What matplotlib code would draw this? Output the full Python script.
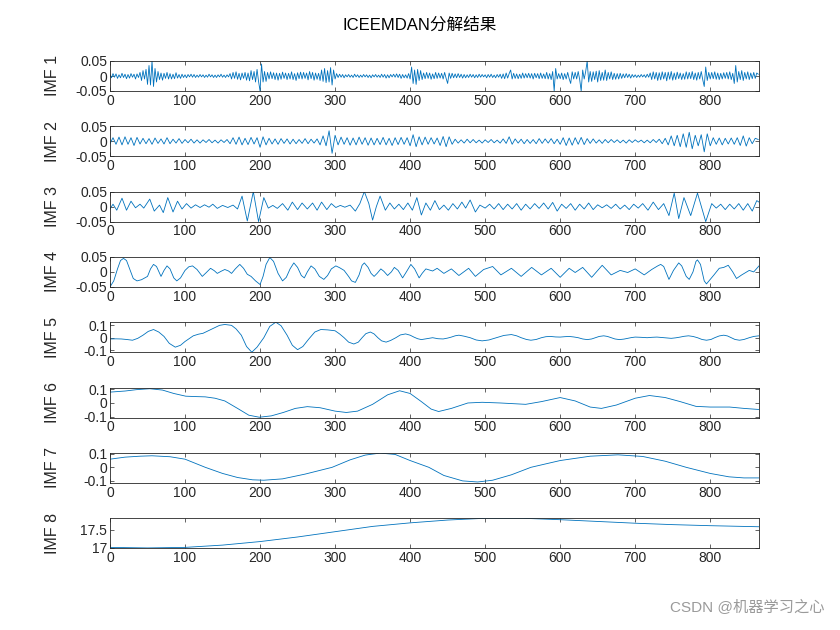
import numpy as np
import matplotlib.pyplot as plt

plt.rcParams['font.family'] = ['Liberation Sans', 'Noto Sans CJK SC', 'DejaVu Sans']

N = 865

# IMF 1 (x1e-3), one value every 2 samples
imf1 = [5, -6, 8, -4, 7, -8, 4, -6, 9, -5,
        6, -9, 5, -7, 8, -4, 6, -10, 7, -5,
        12, -15, 18, -10, 22, -28, 35, -30, 50, -35,
        25, -20, 15, -12, 10, -14, 9, -8, 12, -10,
        8, -10, 6, -9, 11, -7, 5, -8, 6, -5,
        4, -6, 5, -3, 6, -4, 5, -5, 3, -4,
        5, -3, 4, -5, 3, -4, 6, -3, 4, -5,
        3, -5, 4, -3, 6, -4, 3, -5, 4, -3,
        8, -10, 12, -8, 14, -11, 9, -13, 10, -8,
        12, -14, 10, -16, 18, -12, 15, -20, 22, -18,
        -50, 40, -20, 15, -18, 12, -10, 14, -9, 11,
        -12, 10, -14, 9, -11, 13, -8, 10, -12, 9,
        -10, 14, -12, 8, -15, 11, -9, 13, -10, 12,
        -8, 10, -13, 15, -9, 12, -14, 10, -11, 9,
        -15, 20, -18, 25, -22, 18, -20, 28, -30, 20,
        -10, 8, -5, 6, -4, 5, -6, 4, -3, 5,
        -4, 3, -5, 6, -3, 4, -5, 3, -4, 5,
        -3, 4, -5, 3, -6, 4, -3, 5, -4, 3,
        -5, 6, -4, 5, -7, 4, -6, 5, -3, 6,
        -4, 7, -5, 6, -8, 5, -6, 4, -7, 8,
        -10, 30, -25, 20, -28, 22, -15, 18, -12, 10,
        -9, 12, -8, 10, -11, 7, -9, 12, -8, 10,
        -7, 9, -10, 12, -8, -25, 10, -8, 9, -6,
        7, -6, 8, -5, 6, -7, 5, -6, 4, -5,
        6, -4, 5, -6, 4, -5, 6, -4, 5, -3,
        4, -6, 5, -4, 6, -5, 3, -6, 5, -4,
        6, -8, 7, -9, 10, -7, 8, 20, -10, 9,
        -8, 7, -9, 6, -8, 10, -7, 8, -6, 9,
        -7, 8, -10, 9, -6, 8, -9, 10, -8, 7,
        -9, 12, -10, 8, -12, 15, -50, 25, -10, 8,
        -9, 10, -12, 8, -10, 12, -9, -25, 14, -10,
        12, -10, 15, -12, -50, 20, -10, 15, 50, -20,
        15, -18, 14, -12, 16, -20, 18, -15, 12, -14,
        20, -15, 12, -10, 14, -12, 9, -11, 8, -10,
        9, -8, 7, -6, 8, -5, 6, -7, 5, -4,
        4, -5, 3, -4, 5, -3, 4, -5, 6, -4,
        10, -12, 14, -10, 12, -15, 11, -13, 14, -10,
        12, -16, 13, -11, 15, -14, 10, -12, 13, -9,
        10, -12, 8, -11, 14, -10, 12, -9, 15, -12,
        10, -14, 12, -10, 15, -12, -35, 30, -15, 12,
        -10, 12, -9, 14, -11, 10, -12, 9, -10, 11,
        -8, 12, -10, 14, -12, 9, -25, 35, -20, 15,
        -12, 18, -15, 12, -10, 14, -12, 10, -9, 12,
        -8, 10, 6]

# IMF 2 (x1e-3), one value every 4 samples
imf2 = [-8, 12, -10, 14, -12, 15, -10, 12, -14, 13,
        -9, 10, -8, 9, -10, 11, -7, 8, -9, 12,
        -8, 7, -6, 9, -7, 6, -5, 7, -6, 5,
        -6, 5, -4, 6, -5, 4, -6, 5, -4, 6,
        -8, 12, -10, 14, -12, 10, -11, 13, -9, 12,
        -20, 15, -12, 10, -9, 8, -10, 9, -7, 8,
        -9, 7, -8, 6, -7, 9, -8, 7, -6, 8,
        -12, 18, -15, 35, -40, 20, -12, 14, -10, 12,
        -13, 11, -12, 14, -10, 12, -13, 11, -12, 10,
        -11, 13, -12, 10, -14, 12, -11, 13, -10, 12,
        -15, 22, -18, 15, -12, 14, -10, 12, -9, 11,
        -14, 16, -18, 15, -10, 7, -6, 5, -6, 7,
        -5, 6, -5, 4, -6, 5, -4, 6, -5, 4,
        -6, 8, -7, 15, -10, 8, -6, 7, -8, 6,
        -7, 6, -8, 9, -7, 8, -6, 9, -8, 7,
        -10, 12, -14, 11, -13, 12, -10, 13, -11, 9,
        -7, 8, -6, 5, -7, 6, -5, 6, -4, 5,
        -5, 4, -6, 5, -4, 5, -3, 4, -5, 4,
        -5, 6, -4, 7, -8, 10, -12, 18, -15, 20,
        -18, 25, -20, 30, -25, 20, -15, 22, -35, 25,
        -15, 12, -10, 11, -12, 10, -9, 11, -10, 12,
        -14, 18, -16, 12, -8, 10, 6]

# IMF 3 (sample, x1e-3)
imf3 = [(0, -8), (4, 8), (9, -12), (16, 28), (22, -12), (28, 18), (34, -4), (40, 8),
        (45, -5), (53, 25), (59, -15), (66, 5), (71, -20), (77, 30), (84, -18), (90, 18),
        (96, -8), (102, 10), (108, -5), (114, 6), (120, -3), (126, 6), (132, -2), (137, 8),
        (143, -6), (150, 4), (157, -3), (164, 5), (170, -8), (176, 35), (183, -48), (191, 50),
        (198, -50), (205, 30), (211, -5), (217, 4), (223, -6), (230, 10), (237, -12), (243, 15),
        (250, -10), (256, 12), (263, -8), (270, 12), (276, -12), (282, 15), (289, -10), (295, 10),
        (301, -3), (307, 4), (313, -2), (320, 5), (327, -15), (333, 10), (339, 50), (345, 10),
        (350, -45), (355, 0), (360, 35), (367, -12), (373, 12), (379, -8), (385, 8), (391, -10),
        (397, 12), (403, -12), (409, 30), (415, -28), (421, 12), (427, -12), (433, 20), (439, -10),
        (445, 5), (451, -12), (457, 10), (463, -8), (469, 15), (474, -5), (480, 22), (487, -18),
        (493, 5), (500, -5), (506, 8), (512, -8), (518, 10), (524, -10), (530, 8), (536, -8),
        (542, 10), (548, -12), (554, 8), (560, -8), (566, 10), (572, -6), (578, 12), (584, -8),
        (590, 14), (596, -15), (602, 8), (608, -6), (614, 10), (620, -12), (626, 8), (632, -8),
        (638, 12), (644, -10), (650, 6), (656, -4), (662, 6), (668, -6), (674, 8), (680, -8),
        (686, 5), (692, -10), (698, 8), (704, -5), (710, 10), (717, -12), (724, 15), (731, -10),
        (738, 10), (745, -30), (752, 45), (758, -40), (765, 30), (774, -30), (783, 45), (794, -50),
        (802, 10), (808, -5), (814, 8), (820, -10), (826, 8), (832, -8), (838, 10), (844, -12),
        (850, 10), (856, -15), (862, 20), (865, 15)]

# IMF 4 (sample, x1e-3)
imf4 = [(0, -50), (5, -30), (10, 10), (14, 38), (18, 45), (22, 38), (27, 5), (31, -22),
        (36, -30), (42, -26), (50, -15), (54, 10), (58, 25), (62, 18), (68, -15), (72, 5),
        (76, 20), (80, 10), (85, -20), (89, -30), (94, -20), (100, 5), (105, 17), (110, 20),
        (116, 8), (123, -15), (128, -3), (134, 12), (139, 4), (143, -5), (148, 2), (153, 8),
        (158, 3), (162, -5), (167, 10), (173, 25), (178, 12), (183, -8), (188, -15), (194, -30),
        (200, -42), (204, -15), (208, 25), (213, 48), (218, 35), (224, -5), (230, -30), (235, -18),
        (240, 10), (245, 30), (250, 15), (255, -12), (259, -20), (263, 0), (268, 20), (273, 10),
        (279, -15), (285, -25), (290, -12), (295, 10), (301, 20), (306, 14), (312, 5), (318, -15),
        (322, -30), (327, -35), (332, -10), (336, 22), (339, 30), (344, 15), (348, -5), (352, -15),
        (356, -5), (361, 10), (365, 2), (370, -12), (375, 0), (379, 15), (384, 5), (390, -20),
        (395, 0), (401, 25), (406, 10), (412, -20), (416, -5), (421, 10), (430, 3), (436, 12),
        (445, -5), (455, 10), (465, -12), (478, 12), (487, -15), (498, 8), (510, 18), (521, -10),
        (535, 12), (548, -15), (562, 15), (575, -10), (588, 12), (600, -18), (612, 12), (620, -2),
        (630, 15), (642, -18), (656, 22), (668, -10), (680, 5), (690, -2), (700, 10), (712, -10),
        (722, 8), (730, 20), (734, 25), (738, 18), (745, -25), (751, 5), (758, 30), (762, 20),
        (768, -15), (772, -25), (777, 0), (781, 35), (783, 40), (787, 25), (792, -30), (795, -40),
        (800, -25), (805, -10), (812, 12), (818, 15), (824, 22), (830, 0), (835, -22), (842, -10),
        (852, 5), (858, 0), (865, 20)]

# IMF 5 (sample, x1e-3)
imf5 = [(0, -10), (8, -9), (15, -10), (22, -14), (30, -20), (37, -5), (44, 20), (51, 50),
        (58, 65), (65, 45), (72, 10), (79, -45), (87, -75), (94, -60), (100, -30), (106, -5),
        (111, 15), (118, 28), (124, 35), (131, 55), (138, 75), (146, 98), (153, 105), (162, 98),
        (168, 70), (175, 20), (182, -70), (189, -115), (196, -75), (205, 0), (213, 90), (221, 123),
        (228, 95), (236, 20), (243, -60), (250, -95), (257, -70), (265, -10), (273, 45), (281, 65),
        (290, 62), (300, 55), (306, 30), (312, 0), (318, -35), (325, -50), (331, -35), (336, 0),
        (341, 32), (347, 45), (352, 30), (357, 0), (362, -25), (368, -35), (374, -22), (381, 0),
        (387, 22), (394, 30), (400, 20), (405, 5), (410, -8), (415, -15), (422, -8), (430, 0),
        (437, -8), (444, -10), (450, -3), (455, 5), (460, 15), (465, 20), (472, 12), (480, 0),
        (488, -18), (496, -25), (505, -18), (515, 0), (525, 18), (535, 25), (542, 15), (548, 0),
        (555, -14), (561, -20), (568, -14), (575, 0), (581, 8), (587, 10), (594, 6), (600, 5),
        (606, 8), (612, 10), (618, 6), (624, 0), (630, -10), (636, -15), (642, -10), (647, 0),
        (652, 10), (658, 15), (663, 10), (668, 0), (673, -10), (679, -15), (685, -11), (690, -5),
        (695, 1), (700, 5), (708, 3), (716, 0), (722, 3), (729, 5), (738, 0), (748, -5),
        (754, -1), (760, 5), (765, 11), (771, 15), (777, 10), (783, 0), (789, -14), (795, -20),
        (801, -14), (806, 0), (812, 14), (818, 20), (823, 14), (828, 0), (833, -14), (839, -20),
        (845, -14), (852, 0), (858, 10), (865, 15)]

# IMF 6 (sample, x1e-3)
imf6 = [(0, 80), (20, 88), (35, 98), (53, 105), (70, 95), (85, 70), (101, 50), (115, 47),
        (127, 45), (140, 35), (153, 15), (170, -40), (185, -90), (199, -105), (215, -95),
        (231, -70), (247, -40), (263, -27), (280, -35), (300, -60), (315, -70), (330, -60),
        (350, -10), (370, 60), (386, 90), (400, 70), (415, 10), (428, -45), (438, -63),
        (455, -40), (477, 0), (496, 5), (520, 0), (554, -10), (575, 10), (600, 40), (620, 15),
        (640, -30), (655, -40), (675, -15), (700, 35), (719, 55), (740, 40), (760, 10),
        (781, -25), (800, -30), (826, -30), (845, -40), (865, -48)]

# IMF 7 (sample, x1e-3)
imf7 = [(0, 60), (20, 75), (40, 82), (56, 85), (80, 78), (100, 60), (127, 0), (150, -45),
        (170, -75), (190, -92), (205, -95), (230, -85), (260, -50), (296, 0), (320, 55),
        (340, 90), (360, 105), (380, 95), (400, 50), (425, 0), (445, -60), (470, -100),
        (490, -108), (510, -95), (535, -55), (561, 0), (600, 50), (640, 82), (677, 92),
        (710, 80), (740, 45), (768, 0), (800, -45), (825, -70), (845, -78), (865, -78)]

# IMF 8 (sample, value)
imf8 = [(0, 17.005), (50, 16.99), (100, 17.005), (150, 17.07), (200, 17.17), (250, 17.3),
        (300, 17.45), (350, 17.6), (400, 17.7), (450, 17.78), (500, 17.83), (550, 17.83),
        (600, 17.79), (650, 17.74), (700, 17.69), (750, 17.65), (800, 17.62), (865, 17.59)]

ylims = [(-0.05, 0.05), (-0.05, 0.05), (-0.05, 0.05), (-0.05, 0.05),
         (-0.115, 0.123), (-0.107, 0.114), (-0.114, 0.107), (16.985, 17.835)]
yticks = [[-0.05, 0, 0.05]] * 4 + [[-0.1, 0, 0.1]] * 3 + [[17, 17.5]]
ytlabels = [['-0.05', '0', '0.05']] * 4 + [['-0.1', '0', '0.1']] * 3 + [['17', '17.5']]

series = [(np.arange(len(imf1)) * 2, np.array(imf1) * 1e-3),
          (np.arange(len(imf2)) * 4, np.array(imf2) * 1e-3)]
for v in (imf3, imf4, imf5, imf6, imf7):
    a = np.array(v, dtype=float)
    series.append((a[:, 0], a[:, 1] * 1e-3))
a = np.array(imf8)
series.append((a[:, 0], a[:, 1]))

fig = plt.figure(figsize=(8.4, 6.3), dpi=100)
W, H = 840.0, 630.0
dark = '#262626'

for k in range(8):
    top = 61 + 65.3 * k
    ax = fig.add_axes([110 / W, 1 - (top + 30) / H, 649 / W, 30 / H])
    x, y = series[k]
    ax.plot(x, y, color='#0072BD', linewidth=0.6)
    ax.set_xlim(0, N)
    ax.set_ylim(*ylims[k])
    ax.set_xticks(range(0, 900, 100))
    ax.set_yticks(yticks[k])
    ax.set_yticklabels(ytlabels[k])
    ax.tick_params(direction='in', length=3, width=0.5, top=True, right=True,
                   labelsize=10, colors=dark, pad=2)
    for s in ax.spines.values():
        s.set_linewidth(0.6)
        s.set_color(dark)
    ax.set_ylabel('IMF ' + str(k + 1), fontsize=11.5, color=dark)
    ax.yaxis.set_label_coords(-0.077, 0.5)

fig.text(0.5, 1 - 25 / H, 'ICEEMDAN分解结果', ha='center', va='center', fontsize=12, color='black')
fig.text(825 / W, 1 - 607 / H, 'CSDN @机器学习之心', ha='right', va='center',
         fontsize=11, color='#9a9a9a')

fig.savefig('out.png', dpi=100)
